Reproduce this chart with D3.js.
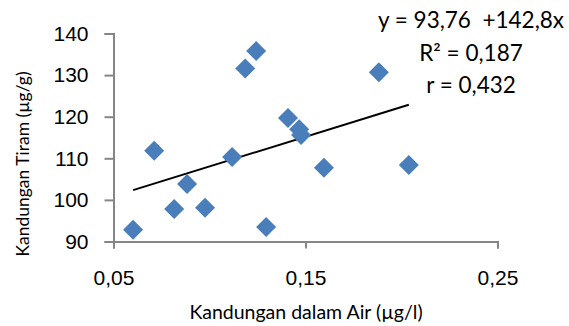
<!DOCTYPE html>
<html>

<head>
  <title>Kandungan</title>
  <style type="text/css">
    body { margin: 0; background: #fff; }
    svg { font-family: Lato, "Open Sans", sans-serif; }
  </style>
</head>

<body>
  <div id="chart"></div>
  <script type="text/javascript" src="https://cdn.jsdelivr.net/npm/d3@7"></script>
  <script type="text/javascript">
    // data
    var airValues = [0.0602, 0.0712, 0.0816, 0.0883, 0.0977, 0.1118, 0.1186, 0.1243, 0.1295, 0.1409, 0.1467, 0.1477, 0.1596, 0.1882, 0.2038];
    var tiramValues = [92.8, 111.8, 97.8, 103.8, 98.1, 110.3, 131.6, 135.8, 93.5, 119.7, 117.0, 115.6, 107.7, 130.7, 108.4];
    var xTicks = [0.05, 0.15, 0.25];
    var yTicks = [90, 100, 110, 120, 130, 140];
    var trendA = 93.76, trendB = 142.8;
    var eqLines = ["y = 93,76  +142,8x", "R² = 0,187", "r = 0,432"];

    var W = 569, H = 326;
    var svg = d3.select("#chart").append("svg")
      .attr("width", W)
      .attr("height", H);

    var x = d3.scaleLinear().domain([0.05, 0.25]).range([113.5, 497.5]);
    var y = d3.scaleLinear().domain([90, 140]).range([241.5, 33.5]);

    var comma = function (d, n) { return d3.format("." + n + "f")(d).replace(".", ","); };

    var xAxis = svg.append("g")
      .attr("transform", "translate(0," + y(90) + ")")
      .call(d3.axisBottom(x).tickValues(xTicks).tickSize(7).tickPadding(22)
        .tickFormat(function (d) { return comma(d, 2); }));

    var yAxis = svg.append("g")
      .attr("transform", "translate(" + x(0.05) + ",0)")
      .call(d3.axisLeft(y).tickValues(yTicks).tickSize(9).tickPadding(16));

    [xAxis, yAxis].forEach(function (a) {
      a.select(".domain").attr("stroke", "#868686").attr("stroke-width", 2);
      a.selectAll(".tick line").attr("stroke", "#868686").attr("stroke-width", 2);
      a.selectAll(".tick text").attr("fill", "#000").style("font-size", "21px");
    });

    // trend line over the data range
    var xMin = d3.min(airValues), xMax = d3.max(airValues);
    svg.append("line")
      .attr("x1", x(xMin)).attr("y1", y(trendA + trendB * xMin))
      .attr("x2", x(xMax)).attr("y2", y(trendA + trendB * xMax))
      .attr("stroke", "#000").attr("stroke-width", 2);

    var pts = d3.range(airValues.length);
    svg.selectAll("path.pt")
      .data(pts)
      .enter().append("path")
      .attr("class", "pt")
      .attr("d", "M0,-10L10,0L0,10L-10,0Z")
      .attr("transform", function (i) { return "translate(" + x(airValues[i]) + "," + y(tiramValues[i]) + ")"; })
      .attr("fill", "#4a7ebb");

    svg.selectAll("text.eq")
      .data(eqLines)
      .enter().append("text")
      .attr("class", "eq")
      .attr("x", 471)
      .attr("y", function (d, i) { return 28 + i * 32.5; })
      .attr("text-anchor", "middle")
      .style("font-size", "22.5px")
      .style("white-space", "pre")
      .text(function (d) { return d; });

    svg.append("text")
      .attr("x", 306)
      .attr("y", 319)
      .attr("text-anchor", "middle")
      .style("font-size", "19.5px")
      .text("Kandungan dalam Air (µg/l)");

    svg.append("text")
      .attr("transform", "translate(29,164) rotate(-90)")
      .attr("text-anchor", "middle")
      .style("font-size", "17.5px")
      .text("Kandungan Tiram (µg/g)");
  </script>
</body>

</html>
